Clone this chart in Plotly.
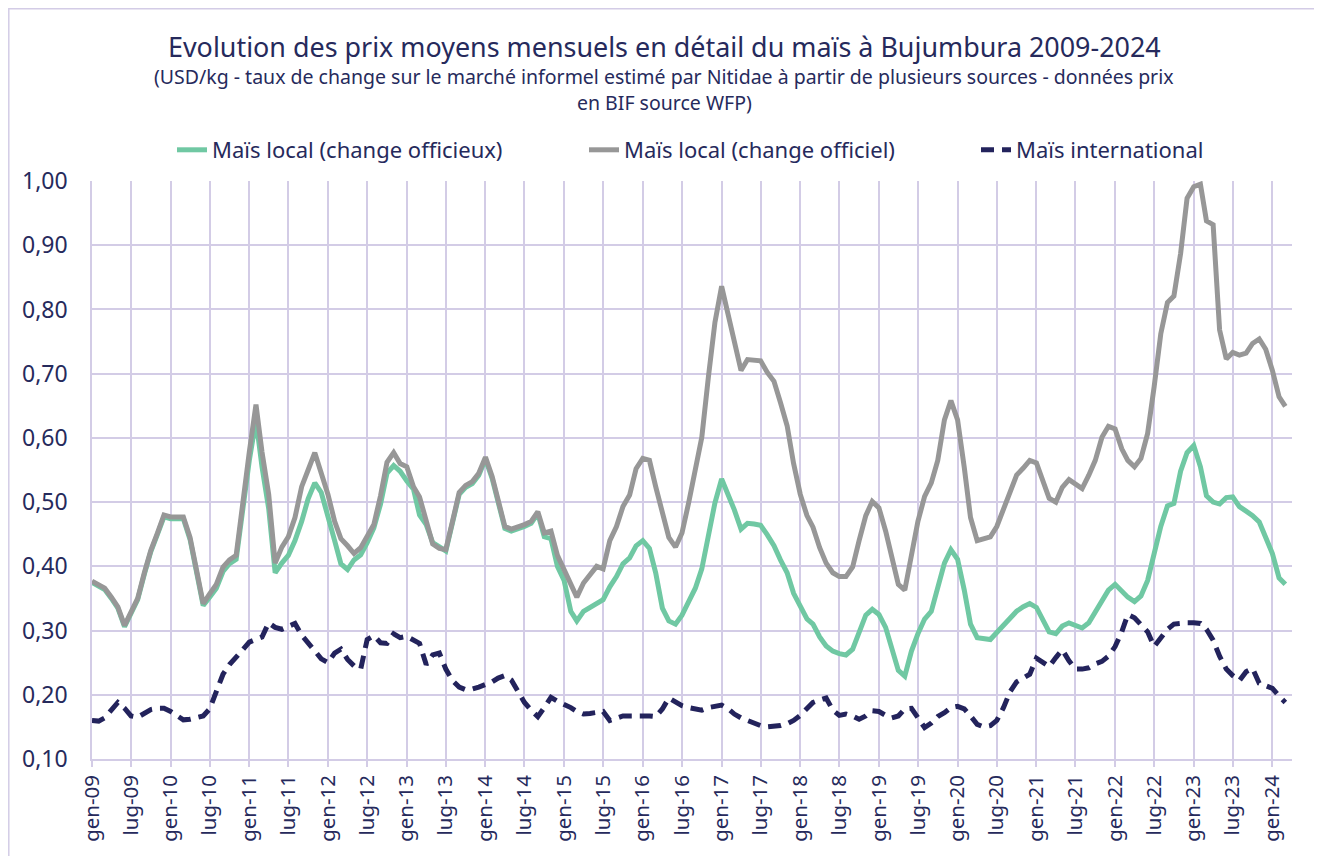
import pandas as pd
import plotly.graph_objects as go

# Monthly dates, Jan 2009 - Mar 2024
months = pd.date_range("2009-01-01", periods=183, freq="MS")

# Maïs local (change officieux) - USD/kg
mais_local_officieux = [
    0.375, 0.369, 0.364, 0.350, 0.335, 0.306, 0.328, 0.348, 0.388, 0.423, 0.450, 0.477,  # 2009
    0.474, 0.473, 0.474, 0.442, 0.389, 0.339, 0.352, 0.366, 0.392, 0.404, 0.411, 0.490,  # 2010
    0.565, 0.628, 0.555, 0.490, 0.390, 0.405, 0.417, 0.440, 0.470, 0.505, 0.530, 0.515,  # 2011
    0.480, 0.440, 0.404, 0.395, 0.410, 0.418, 0.437, 0.460, 0.497, 0.545, 0.557, 0.548,  # 2012
    0.533, 0.520, 0.480, 0.465, 0.437, 0.430, 0.424, 0.468, 0.512, 0.523, 0.529, 0.542,  # 2013
    0.567, 0.537, 0.503, 0.459, 0.455, 0.458, 0.462, 0.467, 0.482, 0.446, 0.443, 0.400,  # 2014
    0.378, 0.330, 0.315, 0.330, 0.336, 0.343, 0.348, 0.368, 0.384, 0.404, 0.413, 0.432,  # 2015
    0.440, 0.428, 0.390, 0.335, 0.315, 0.310, 0.324, 0.345, 0.366, 0.396, 0.446, 0.499,  # 2016
    0.536, 0.512, 0.488, 0.458, 0.467, 0.466, 0.464, 0.449, 0.432, 0.410, 0.390, 0.358,  # 2017
    0.336, 0.318, 0.310, 0.290, 0.276, 0.268, 0.264, 0.262, 0.271, 0.298, 0.324, 0.333,  # 2018
    0.325, 0.305, 0.271, 0.238, 0.229, 0.268, 0.295, 0.318, 0.330, 0.366, 0.405, 0.426,  # 2019
    0.411, 0.363, 0.310, 0.289, 0.287, 0.286, 0.297, 0.308, 0.318, 0.330, 0.337, 0.342,  # 2020
    0.336, 0.315, 0.298, 0.295, 0.307, 0.312, 0.307, 0.304, 0.312, 0.330, 0.348, 0.363,  # 2021
    0.372, 0.362, 0.352, 0.345, 0.354, 0.378, 0.420, 0.462, 0.494, 0.498, 0.548, 0.577,  # 2022
    0.588, 0.555, 0.510, 0.500, 0.497, 0.507, 0.508, 0.493, 0.486, 0.479, 0.469, 0.445,  # 2023
    0.420, 0.382, 0.372,                                                                # 2024
]

# Maïs local (change officiel) - USD/kg
mais_local_officiel = [
    0.377, 0.371, 0.366, 0.352, 0.337, 0.308, 0.330, 0.350, 0.390, 0.425, 0.452, 0.480,  # 2009
    0.477, 0.476, 0.477, 0.445, 0.392, 0.342, 0.357, 0.372, 0.399, 0.410, 0.417, 0.500,  # 2010
    0.578, 0.652, 0.578, 0.512, 0.405, 0.430, 0.446, 0.476, 0.524, 0.550, 0.577, 0.545,  # 2011
    0.512, 0.470, 0.443, 0.432, 0.420, 0.429, 0.445, 0.465, 0.510, 0.562, 0.577, 0.560,  # 2012
    0.555, 0.524, 0.508, 0.470, 0.435, 0.428, 0.426, 0.470, 0.515, 0.526, 0.532, 0.545,  # 2013
    0.570, 0.540, 0.506, 0.462, 0.458, 0.461, 0.465, 0.470, 0.485, 0.452, 0.455, 0.417,  # 2014
    0.396, 0.373, 0.352, 0.374, 0.387, 0.400, 0.396, 0.440, 0.462, 0.493, 0.511, 0.552,  # 2015
    0.568, 0.565, 0.524, 0.483, 0.445, 0.430, 0.452, 0.499, 0.548, 0.601, 0.696, 0.780,  # 2016
    0.836, 0.789, 0.750, 0.705, 0.722, 0.721, 0.720, 0.702, 0.688, 0.655, 0.619, 0.560,  # 2017
    0.512, 0.479, 0.461, 0.429, 0.405, 0.390, 0.384, 0.384, 0.399, 0.440, 0.479, 0.501,  # 2018
    0.491, 0.455, 0.417, 0.372, 0.363, 0.423, 0.470, 0.509, 0.530, 0.565, 0.628, 0.658,  # 2019
    0.628, 0.554, 0.476, 0.440, 0.443, 0.446, 0.462, 0.490, 0.517, 0.542, 0.553, 0.565,  # 2020
    0.561, 0.530, 0.506, 0.500, 0.523, 0.535, 0.527, 0.521, 0.542, 0.565, 0.601, 0.618,  # 2021
    0.614, 0.583, 0.565, 0.555, 0.568, 0.607, 0.679, 0.762, 0.811, 0.821, 0.887, 0.973,  # 2022
    0.991, 0.995, 0.938, 0.932, 0.768, 0.723, 0.733, 0.729, 0.732, 0.747, 0.754, 0.738,  # 2023
    0.705, 0.664, 0.649,                                                                # 2024
]

# Maïs international - USD/kg
mais_international = [
    0.160, 0.159, 0.164, 0.176, 0.188, 0.179, 0.167, 0.165, 0.172, 0.177, 0.179, 0.179,  # 2009
    0.174, 0.168, 0.161, 0.162, 0.164, 0.167, 0.178, 0.205, 0.232, 0.247, 0.260, 0.270,  # 2010
    0.282, 0.287, 0.290, 0.312, 0.305, 0.302, 0.306, 0.311, 0.293, 0.280, 0.268, 0.256,  # 2011
    0.250, 0.265, 0.271, 0.255, 0.245, 0.240, 0.286, 0.292, 0.281, 0.280, 0.295, 0.289,  # 2012
    0.291, 0.286, 0.280, 0.247, 0.262, 0.265, 0.240, 0.222, 0.212, 0.208, 0.209, 0.212,  # 2013
    0.215, 0.220, 0.226, 0.230, 0.223, 0.205, 0.188, 0.176, 0.166, 0.180, 0.196, 0.190,  # 2014
    0.186, 0.180, 0.174, 0.170, 0.171, 0.173, 0.174, 0.160, 0.163, 0.167, 0.167, 0.167,  # 2015
    0.168, 0.167, 0.166, 0.178, 0.195, 0.188, 0.183, 0.180, 0.177, 0.176, 0.180, 0.182,  # 2016
    0.184, 0.178, 0.170, 0.164, 0.160, 0.157, 0.152, 0.150, 0.151, 0.152, 0.155, 0.160,  # 2017
    0.168, 0.178, 0.188, 0.192, 0.195, 0.176, 0.168, 0.170, 0.167, 0.162, 0.167, 0.175,  # 2018
    0.174, 0.168, 0.164, 0.167, 0.178, 0.179, 0.165, 0.149, 0.156, 0.166, 0.172, 0.180,  # 2019
    0.182, 0.178, 0.167, 0.154, 0.150, 0.152, 0.160, 0.180, 0.205, 0.220, 0.226, 0.232,  # 2020
    0.257, 0.250, 0.244, 0.258, 0.270, 0.253, 0.240, 0.240, 0.242, 0.248, 0.252, 0.260,  # 2021
    0.275, 0.298, 0.325, 0.320, 0.310, 0.298, 0.275, 0.290, 0.302, 0.310, 0.312, 0.312,  # 2022
    0.312, 0.311, 0.302, 0.285, 0.260, 0.240, 0.230, 0.222, 0.236, 0.241, 0.218, 0.215,  # 2023
    0.210, 0.198, 0.188,                                                                # 2024
]

tick_dates = pd.date_range("2009-01-01", "2024-01-01", freq="6MS")
tick_labels = [
    "gen-09", "lug-09", "gen-10", "lug-10", "gen-11", "lug-11", "gen-12", "lug-12",
    "gen-13", "lug-13", "gen-14", "lug-14", "gen-15", "lug-15", "gen-16", "lug-16",
    "gen-17", "lug-17", "gen-18", "lug-18", "gen-19", "lug-19", "gen-20", "lug-20",
    "gen-21", "lug-21", "gen-22", "lug-22", "gen-23", "lug-23", "gen-24",
]
y_ticks = [0.10, 0.20, 0.30, 0.40, 0.50, 0.60, 0.70, 0.80, 0.90, 1.00]

FONT = "Noto Sans"
NAVY = "#262a5c"
GRID = "#d3cce6"

fig = go.Figure()
fig.add_trace(go.Scatter(
    x=months, y=mais_local_officieux, mode="lines",
    name="Maïs local (change officieux)", legend="legend",
    line=dict(color="#70c8a3", width=5),
))
fig.add_trace(go.Scatter(
    x=months, y=mais_local_officiel, mode="lines",
    name="Maïs local (change officiel)", legend="legend2",
    line=dict(color="#979797", width=5),
))
fig.add_trace(go.Scatter(
    x=months, y=mais_international, mode="lines",
    name="Maïs international", legend="legend3",
    line=dict(color="#23235c", width=5, dash="13px,8px"),
))

# page has an 8px body margin: figure coords = page coords - 8
OFF = 8
W, H = 1306, 848
L, R, T, B = 84, 22, 173, 97
pw, ph = W - L - R, H - T - B


def fx(page_x):
    return (page_x - OFF - L) / pw


def fy(page_y):
    return (H - B - (page_y - OFF)) / ph


def legend_at(page_x):
    return dict(
        orientation="h", x=fx(page_x), xanchor="left", y=fy(150), yanchor="middle",
        font=dict(size=22, color=NAVY, family=FONT), bgcolor="rgba(0,0,0,0)",
    )


fig.update_layout(
    width=W, height=H, autosize=False,
    margin=dict(l=L, r=R, t=T, b=B, pad=0),
    paper_bgcolor="white", plot_bgcolor="white",
    separators=", ",
    font=dict(family=FONT, color=NAVY),
    showlegend=True,
    legend=legend_at(172),
    legend2=legend_at(584),
    legend3=legend_at(976),
    annotations=[
        dict(text="Evolution des prix moyens mensuels en détail du maïs à Bujumbura 2009-2024",
             xref="paper", yref="paper", x=fx(664), y=fy(46), xanchor="center", yanchor="middle",
             showarrow=False, font=dict(size=26.9, color=NAVY, family=FONT)),
        dict(text="(USD/kg - taux de change sur le marché informel estimé par Nitidae à partir de plusieurs sources - données prix",
             xref="paper", yref="paper", x=fx(664), y=fy(77), xanchor="center", yanchor="middle",
             showarrow=False, font=dict(size=19.5, color=NAVY, family=FONT)),
        dict(text="en BIF source WFP)",
             xref="paper", yref="paper", x=fx(664), y=fy(103), xanchor="center", yanchor="middle",
             showarrow=False, font=dict(size=19.5, color=NAVY, family=FONT)),
    ],
    shapes=[
        dict(type="rect", xref="paper", yref="paper",
             x0=fx(8.8), x1=fx(1400), y0=fy(1000), y1=fy(8.8),
             line=dict(color=GRID, width=1.5), fillcolor="rgba(0,0,0,0)", layer="below"),
    ],
)

fig.update_xaxes(
    type="date",
    range=["2009-01-01", "2024-04-01"],
    tickmode="array", tickvals=tick_dates, ticktext=tick_labels,
    tickangle=-90,
    tickfont=dict(size=20.5, color=NAVY, family=FONT),
    showgrid=True, gridcolor=GRID, gridwidth=1.5,
    showline=True, linecolor=GRID, linewidth=1.5,
    ticks="outside", ticklen=6, tickcolor=GRID, tickwidth=1.5,
    zeroline=False,
)
fig.update_yaxes(
    range=[0.10, 1.00],
    tickmode="array", tickvals=y_ticks, tickformat=".2f",
    tickfont=dict(size=23, color=NAVY, family=FONT),
    showgrid=True, gridcolor=GRID, gridwidth=1.5,
    showline=True, linecolor=GRID, linewidth=1.5,
    ticks="", ticklabelstandoff=18,
    zeroline=False,
)

fig.write_html("out.html")
